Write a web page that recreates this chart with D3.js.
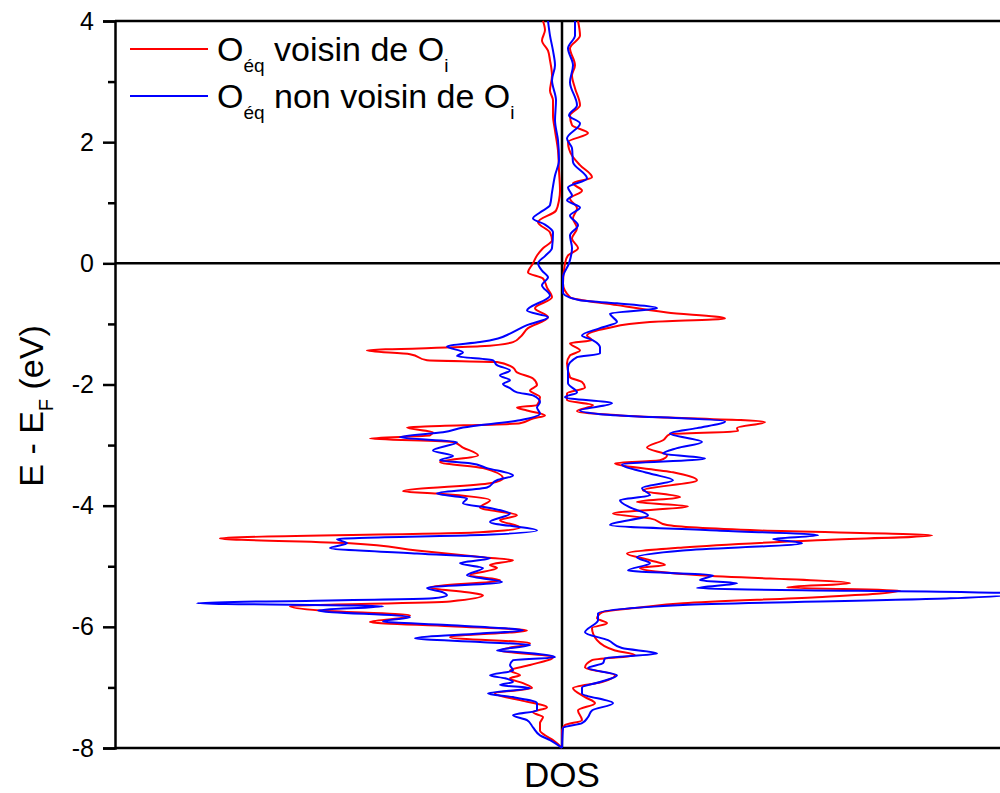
<!DOCTYPE html>
<html><head><meta charset="utf-8">
<script src="https://cdn.jsdelivr.net/npm/d3@7"></script>
<style>body{margin:0;background:#fff}svg{display:block}</style>
</head><body><svg id="c" width="1000" height="793"></svg>
<script>
// ---- data ----
const yTickValues = [-8, -6, -4, -2, 0, 2, 4];
const yMinorTicks = [-7, -5, -3, -1, 1, 3];
const xTitle = "DOS";
const seriesNames = ["voisin de O", "non voisin de O"];
// [E - EF (eV), DOS]  spin up = negative side, spin down = positive side
const redUp = [[4.0,-0.19],[3.85,-0.17],[3.68,-0.20],[3.51,-0.14],[3.35,-0.12],[3.10,-0.10],[2.85,-0.12],[2.69,-0.09],[2.44,-0.09],[2.19,-0.07],[1.86,-0.04],[1.53,-0.03],[1.20,-0.02],[1.04,-0.03],[0.87,-0.06],[0.68,-0.24],[0.51,-0.12],[0.38,-0.10],[0.25,-0.19],[0.13,-0.25],[0,-0.29],[-0.15,-0.34],[-0.25,-0.19],[-0.40,-0.15],[-0.56,-0.10],[-0.74,-0.27],[-0.89,-0.14],[-1.07,-0.34],[-1.22,-0.42],[-1.30,-0.49],[-1.37,-0.82],[-1.44,-1.95],[-1.50,-1.52],[-1.60,-1.35],[-1.63,-0.65],[-1.72,-0.49],[-1.80,-0.45],[-1.90,-0.29],[-2.01,-0.25],[-2.10,-0.32],[-2.21,-0.22],[-2.34,-0.25],[-2.38,-0.45],[-2.43,-0.35],[-2.51,-0.17],[-2.56,-0.29],[-2.64,-0.42],[-2.71,-1.55],[-2.79,-1.29],[-2.84,-1.32],[-2.89,-1.92],[-2.95,-1.09],[-3.04,-0.99],[-3.17,-0.84],[-3.28,-1.22],[-3.38,-0.79],[-3.55,-0.59],[-3.63,-0.72],[-3.76,-1.59],[-3.80,-1.25],[-3.91,-0.72],[-4.03,-0.82],[-4.16,-0.45],[-4.24,-0.62],[-4.36,-0.42],[-4.44,-0.82],[-4.54,-3.42],[-4.62,-2.12],[-4.74,-1.45],[-4.85,-0.79],[-4.90,-0.49],[-4.98,-0.72],[-5.03,-0.65],[-5.15,-0.92],[-5.23,-0.62],[-5.35,-1.32],[-5.43,-0.95],[-5.48,-0.79],[-5.58,-1.12],[-5.66,-2.72],[-5.73,-2.42],[-5.81,-1.52],[-5.86,-1.62],[-5.92,-1.92],[-5.99,-1.12],[-6.06,-0.35],[-6.17,-1.12],[-6.27,-0.32],[-6.39,-0.62],[-6.50,-0.09],[-6.63,-0.32],[-6.72,-0.52],[-6.80,-0.42],[-6.85,-0.52],[-6.93,-0.39],[-7.01,-0.30],[-7.10,-0.67],[-7.21,-0.42],[-7.33,-0.15],[-7.41,-0.29],[-7.49,-0.19],[-7.59,-0.22],[-7.71,-0.22],[-7.79,-0.17],[-7.87,-0.09],[-8,0]];
const blueUp = [[4.0,-0.14],[3.76,-0.12],[3.51,-0.09],[3.27,-0.07],[3.02,-0.10],[2.69,-0.06],[2.36,-0.07],[2.03,-0.04],[1.70,-0.03],[1.45,-0.07],[1.17,-0.10],[0.96,-0.12],[0.84,-0.22],[0.74,-0.29],[0.64,-0.17],[0.51,-0.09],[0.25,-0.10],[0.12,-0.17],[0,-0.24],[-0.12,-0.20],[-0.23,-0.14],[-0.36,-0.20],[-0.53,-0.12],[-0.78,-0.35],[-0.89,-0.14],[-1.02,-0.35],[-1.16,-0.52],[-1.24,-0.64],[-1.30,-0.82],[-1.37,-1.15],[-1.47,-0.99],[-1.53,-1.05],[-1.60,-0.69],[-1.68,-0.65],[-1.77,-0.52],[-1.85,-0.62],[-1.93,-0.52],[-1.99,-0.59],[-2.06,-0.52],[-2.13,-0.45],[-2.18,-0.29],[-2.29,-0.22],[-2.38,-0.25],[-2.48,-0.22],[-2.59,-0.42],[-2.71,-0.99],[-2.79,-1.19],[-2.87,-1.62],[-2.95,-1.05],[-3.09,-1.29],[-3.18,-1.09],[-3.25,-1.22],[-3.30,-0.92],[-3.38,-0.75],[-3.50,-0.49],[-3.58,-0.65],[-3.70,-0.75],[-3.80,-1.25],[-3.88,-0.95],[-3.96,-0.99],[-4.04,-0.72],[-4.13,-0.52],[-4.27,-0.72],[-4.41,-0.25],[-4.49,-0.92],[-4.55,-2.25],[-4.62,-2.15],[-4.70,-2.32],[-4.79,-1.45],[-4.87,-0.72],[-4.95,-1.02],[-5.03,-0.79],[-5.15,-0.95],[-5.26,-0.60],[-5.36,-1.35],[-5.43,-1.19],[-5.48,-1.15],[-5.53,-1.29],[-5.61,-3.65],[-5.66,-1.79],[-5.73,-2.44],[-5.84,-1.52],[-5.91,-1.79],[-5.97,-1.15],[-6.06,-0.39],[-6.11,-0.82],[-6.19,-1.47],[-6.25,-0.82],[-6.30,-0.32],[-6.39,-0.65],[-6.42,-0.42],[-6.50,-0.07],[-6.55,-0.49],[-6.63,-0.52],[-6.72,-0.49],[-6.80,-0.72],[-6.85,-0.57],[-6.91,-0.49],[-6.96,-0.62],[-7.01,-0.32],[-7.10,-0.74],[-7.16,-0.49],[-7.26,-0.25],[-7.38,-0.25],[-7.46,-0.49],[-7.54,-0.35],[-7.66,-0.29],[-7.79,-0.22],[-7.87,-0.12],[-8,0]];
const redDown = [[4.0,0.16],[3.76,0.18],[3.55,0.08],[3.27,0.13],[3.10,0.10],[2.89,0.13],[2.61,0.18],[2.44,0.08],[2.28,0.10],[2.15,0.26],[2.00,0.06],[1.78,0.10],[1.62,0.18],[1.42,0.30],[1.32,0.11],[1.20,0.20],[1.07,0.08],[0.91,0.15],[0.74,0.11],[0.58,0.15],[0.41,0.10],[0.25,0.16],[0.13,0.06],[0,0.03],[-0.33,0.01],[-0.56,0.08],[-0.69,0.55],[-0.81,1.05],[-0.91,1.63],[-0.97,0.88],[-1.07,0.45],[-1.19,0.25],[-1.27,0.30],[-1.32,0.08],[-1.44,0.18],[-1.52,0.08],[-1.65,0.05],[-1.88,0.08],[-1.96,0.20],[-2.05,0.23],[-2.15,0.05],[-2.26,0.05],[-2.34,0.31],[-2.44,0.15],[-2.51,0.58],[-2.62,2.03],[-2.72,1.75],[-2.77,1.76],[-2.82,1.08],[-2.92,1.01],[-3.04,0.85],[-3.17,1.05],[-3.25,0.98],[-3.30,0.53],[-3.45,1.11],[-3.58,1.35],[-3.75,0.81],[-3.86,1.18],[-3.94,0.75],[-4.01,1.26],[-4.13,0.51],[-4.21,0.88],[-4.32,1.05],[-4.41,1.98],[-4.49,3.70],[-4.57,2.55],[-4.69,1.21],[-4.79,0.65],[-4.90,0.88],[-4.98,1.03],[-5.03,0.78],[-5.15,1.38],[-5.28,2.88],[-5.35,2.25],[-5.40,3.38],[-5.45,3.18],[-5.51,2.55],[-5.61,1.21],[-5.68,0.78],[-5.76,0.40],[-5.86,0.35],[-5.94,0.45],[-6.02,0.30],[-6.22,0.35],[-6.39,0.53],[-6.47,0.73],[-6.55,0.30],[-6.67,0.23],[-6.80,0.53],[-6.91,0.40],[-7.01,0.11],[-7.16,0.23],[-7.26,0.33],[-7.38,0.16],[-7.54,0.20],[-7.62,0.03],[-7.71,0],[-8,0]];
const blueDown = [[4.0,0.13],[3.76,0.13],[3.55,0.06],[3.27,0.11],[2.99,0.08],[2.61,0.15],[2.44,0.07],[2.31,0.18],[2.06,0.05],[1.90,0.10],[1.67,0.11],[1.40,0.25],[1.25,0.06],[1.12,0.10],[1.04,0.05],[0.92,0.18],[0.79,0.08],[0.63,0.16],[0.46,0.08],[0.25,0.10],[0,0.07],[-0.23,0.01],[-0.48,0.01],[-0.61,0.18],[-0.66,0.55],[-0.74,0.95],[-0.83,0.48],[-0.97,0.55],[-1.07,0.38],[-1.19,0.20],[-1.27,0.31],[-1.39,0.38],[-1.49,0.38],[-1.55,0.15],[-1.72,0.06],[-1.98,0.06],[-2.13,0.15],[-2.21,0.03],[-2.31,0.50],[-2.43,0.18],[-2.49,0.38],[-2.61,1.63],[-2.72,1.35],[-2.81,1.08],[-2.95,1.40],[-3.05,1.15],[-3.14,1.01],[-3.22,1.43],[-3.32,0.60],[-3.47,0.88],[-3.58,1.11],[-3.71,0.80],[-3.83,0.88],[-3.91,0.58],[-4.03,0.68],[-4.16,0.86],[-4.32,0.48],[-4.41,1.55],[-4.49,2.56],[-4.55,2.11],[-4.62,2.40],[-4.74,1.21],[-4.85,0.75],[-4.95,0.88],[-5.07,0.66],[-5.15,1.51],[-5.23,1.38],[-5.28,1.75],[-5.36,1.35],[-5.45,4.58],[-5.53,3.88],[-5.64,1.21],[-5.78,0.36],[-5.89,0.36],[-6.09,0.23],[-6.22,0.46],[-6.35,0.60],[-6.44,0.95],[-6.52,0.43],[-6.60,0.41],[-6.68,0.26],[-6.80,0.55],[-6.91,0.38],[-7.00,0.20],[-7.10,0.20],[-7.26,0.51],[-7.38,0.30],[-7.49,0.26],[-7.59,0.20],[-7.67,0.01],[-8,0]];

// ---- drawing ----
const svg = d3.select("#c");
const FONT = "'Liberation Sans', Arial, Helvetica, sans-serif";
const x = d3.scaleLinear().domain([-4.47, 4.38]).range([115, 1000]);
const y = d3.scaleLinear().domain([-8, 4]).range([748, 21]);

// frame lines
const g = svg.append("g");
g.append("line").attr("x1", x(0)).attr("x2", x(0)).attr("y1", y(4)).attr("y2", y(-8))
  .attr("stroke", "#000").attr("stroke-width", 2.5);
g.append("line").attr("x1", x.range()[0]).attr("x2", x.range()[1]).attr("y1", y(0)).attr("y2", y(0))
  .attr("stroke", "#000").attr("stroke-width", 2.5);
g.append("line").attr("x1", x.range()[0]).attr("x2", x.range()[1]).attr("y1", y(4)).attr("y2", y(4))
  .attr("stroke", "#000").attr("stroke-width", 2.5);
g.append("line").attr("x1", x.range()[0]).attr("x2", x.range()[1]).attr("y1", y(-8)).attr("y2", y(-8))
  .attr("stroke", "#000").attr("stroke-width", 2.5);

// curves
const line = d3.line().x(d => x(d[1])).y(d => y(d[0])).curve(d3.curveMonotoneY);
const series = [
  {data: redUp, color: "#ff0000"}, {data: redDown, color: "#ff0000"},
  {data: blueUp, color: "#0000ff"}, {data: blueDown, color: "#0000ff"}
];
svg.append("g").selectAll("path").data(series).join("path")
  .attr("d", d => line(d.data)).attr("fill", "none")
  .attr("stroke", d => d.color).attr("stroke-width", 2).attr("stroke-linejoin", "round");

// left axis
const yAxis = d3.axisLeft(y).tickValues(yTickValues).tickSize(12).tickPadding(9)
  .tickFormat(d => d3.format("d")(d).replace("−", "-"));
const ag = svg.append("g").attr("transform", `translate(${x.range()[0]},0)`).call(yAxis);
ag.select(".domain").attr("stroke-width", 2.5);
ag.selectAll(".tick line").attr("stroke-width", 2.5);
ag.selectAll(".tick text").attr("font-size", 25).attr("font-family", FONT).attr("fill", "#000");
const minor = d3.axisLeft(y).tickValues(yMinorTicks).tickSize(7).tickFormat("");
const mg = svg.append("g").attr("transform", `translate(${x.range()[0]},0)`).call(minor);
mg.select(".domain").remove();
mg.selectAll(".tick line").attr("stroke-width", 2.5);

// axis titles
const yt = svg.append("text").attr("transform", `translate(43,406) rotate(-90)`)
  .attr("text-anchor", "middle").attr("font-family", FONT).attr("font-size", 34).attr("fill", "#000");
yt.append("tspan").text("E - E");
yt.append("tspan").attr("font-size", 20).attr("dy", 10).text("F");
yt.append("tspan").attr("dy", -10).text(" (eV)");
svg.append("text").attr("x", x(0)).attr("y", 787).attr("text-anchor", "middle")
  .attr("font-family", FONT).attr("font-size", 35).attr("fill", "#000").text(xTitle);

// legend
const legend = [{c: "#ff0000", name: seriesNames[0]}, {c: "#0000ff", name: seriesNames[1]}];
legend.forEach((d, i) => {
  const yy = 49 + i * 47;
  svg.append("line").attr("x1", 130).attr("x2", 208).attr("y1", yy).attr("y2", yy)
    .attr("stroke", d.c).attr("stroke-width", 2);
  const t = svg.append("text").attr("x", 217).attr("y", yy + 12)
    .attr("font-family", FONT).attr("font-size", 34).attr("fill", "#000");
  t.append("tspan").text("O");
  t.append("tspan").attr("font-size", 19).attr("dy", 11).text("éq");
  t.append("tspan").attr("dy", -11).text(" " + d.name);
  t.append("tspan").attr("font-size", 19).attr("dy", 11).text("i");
});
</script></body></html>
